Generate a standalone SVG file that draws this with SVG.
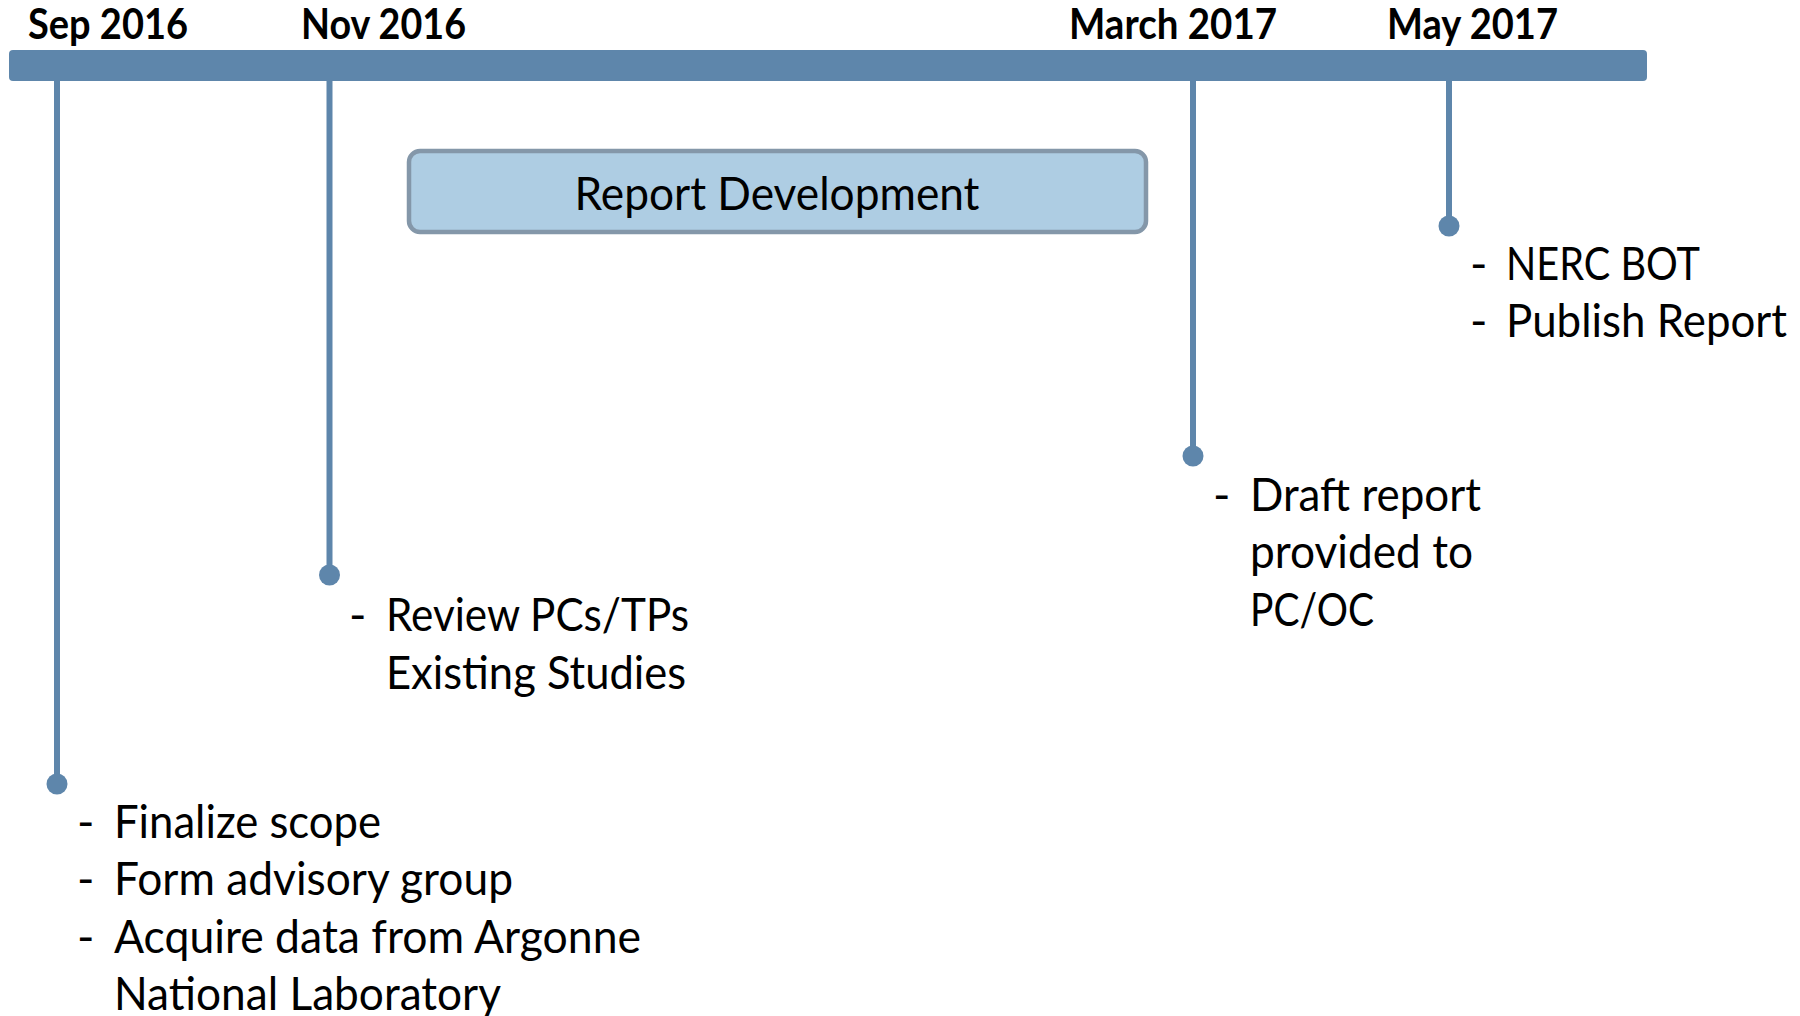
<svg xmlns="http://www.w3.org/2000/svg" width="1800" height="1016" viewBox="0 0 1800 1016">
  <style>
    .date { font-family: Lato, "Open Sans", "Liberation Sans", sans-serif; font-weight: 700; font-size: 42px; fill: #000; }
    .body { font-family: Lato, "Open Sans", "Liberation Sans", sans-serif; font-size: 47px; fill: #000; }
    .stem { stroke: #5E86AB; stroke-width: 6; fill: none; }
    .dot { fill: #5E86AB; }
  </style>
  <rect width="1800" height="1016" fill="#ffffff"/>
  <g id="timeline-bar">
    <rect x="9" y="50" width="1638" height="31" rx="4" fill="#5E86AB"/>
  </g>
  <g id="connectors">
    <line class="stem" x1="57" y1="80" x2="57" y2="784"/>
    <line class="stem" x1="329.5" y1="80" x2="329.5" y2="575"/>
    <line class="stem" x1="1193" y1="80" x2="1193" y2="456"/>
    <line class="stem" x1="1449" y1="80" x2="1449" y2="226"/>
  </g>
  <g id="sep2016">
    <text class="date" x="28" y="39" textLength="160" lengthAdjust="spacingAndGlyphs">Sep 2016</text>
    <circle class="dot" cx="57" cy="784" r="10.5"/>
    <text class="body" x="77" y="838">-</text>
    <text class="body" x="114" y="838" textLength="267" lengthAdjust="spacingAndGlyphs">Finalize scope</text>
    <text class="body" x="77" y="895">-</text>
    <text class="body" x="114" y="895" textLength="399" lengthAdjust="spacingAndGlyphs">Form advisory group</text>
    <text class="body" x="77" y="953">-</text>
    <text class="body" x="114" y="953" textLength="527" lengthAdjust="spacingAndGlyphs">Acquire data from Argonne</text>
    <text class="body" x="114" y="1010" textLength="387" lengthAdjust="spacingAndGlyphs">National Laboratory</text>
  </g>
  <g id="nov2016">
    <text class="date" x="301" y="39" textLength="165" lengthAdjust="spacingAndGlyphs">Nov 2016</text>
    <circle class="dot" cx="329.5" cy="575" r="10.5"/>
    <text class="body" x="349" y="631">-</text>
    <text class="body" x="386" y="631" textLength="303" lengthAdjust="spacingAndGlyphs">Review PCs/TPs</text>
    <text class="body" x="386" y="689" textLength="300" lengthAdjust="spacingAndGlyphs">Existing Studies</text>
  </g>
  <g id="report-development">
    <rect x="409" y="151" width="737" height="81" rx="11" fill="#AECDE3" stroke="#8497A9" stroke-width="4.5"/>
    <text class="body" x="777" y="210" text-anchor="middle" textLength="405" lengthAdjust="spacingAndGlyphs">Report Development</text>
  </g>
  <g id="mar2017">
    <text class="date" x="1069" y="39" textLength="208" lengthAdjust="spacingAndGlyphs">March 2017</text>
    <circle class="dot" cx="1193" cy="456" r="10.5"/>
    <text class="body" x="1213" y="511">-</text>
    <text class="body" x="1250" y="511" textLength="231" lengthAdjust="spacingAndGlyphs">Draft report</text>
    <text class="body" x="1250" y="568" textLength="223" lengthAdjust="spacingAndGlyphs">provided to</text>
    <text class="body" x="1250" y="626" textLength="124" lengthAdjust="spacingAndGlyphs">PC/OC</text>
  </g>
  <g id="may2017">
    <text class="date" x="1387" y="39" textLength="171" lengthAdjust="spacingAndGlyphs">May 2017</text>
    <circle class="dot" cx="1449" cy="226" r="10.5"/>
    <text class="body" x="1470" y="280">-</text>
    <text class="body" x="1506" y="280" textLength="194" lengthAdjust="spacingAndGlyphs">NERC BOT</text>
    <text class="body" x="1470" y="337">-</text>
    <text class="body" x="1506" y="337" textLength="281" lengthAdjust="spacingAndGlyphs">Publish Report</text>
  </g>
</svg>
